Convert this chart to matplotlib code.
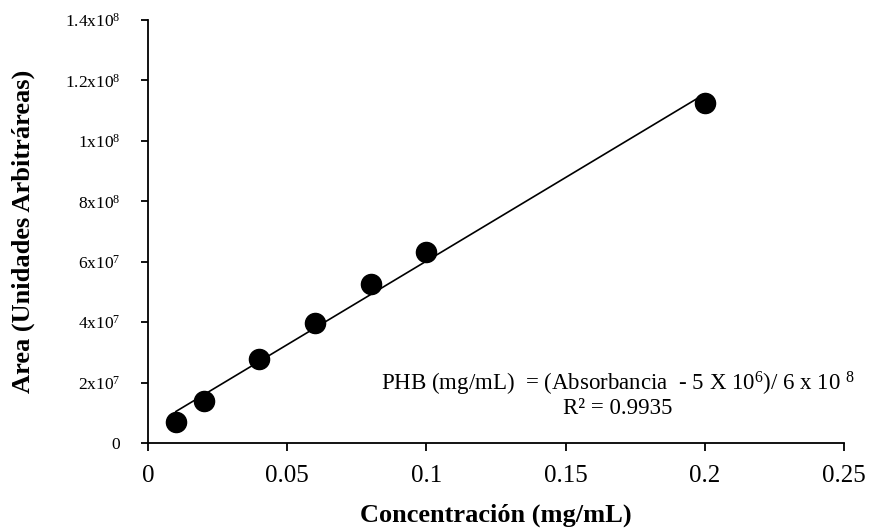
import numpy as np
import matplotlib
matplotlib.use("Agg")
import matplotlib.pyplot as plt

# Data
concentracion = [0.01, 0.02, 0.04, 0.06, 0.08, 0.10, 0.20]
area = [6.85e6, 1.39e7, 2.77e7, 3.97e7, 5.25e7, 6.33e7, 1.124e8]

x_ticks = [0, 0.05, 0.10, 0.15, 0.20, 0.25]
x_tick_labels = ["0", "0.05", "0.1", "0.15", "0.2", "0.25"]
y_ticks = [0, 2e7, 4e7, 6e7, 8e7, 1e8, 1.2e8, 1.4e8]
y_tick_labels = ["0", "2x10$^{7}$", "4x10$^{7}$", "6x10$^{7}$", "8x10$^{8}$",
                 "1x10$^{8}$", "1.2x10$^{8}$", "1.4x10$^{8}$"]

equation_text = "PHB (mg/mL)  = (Absorbancia  - 5 X 10$^{6}$)/ 6 x 10 $^{8}$"
r2_text = "R² = 0.9935"

plt.rcParams['font.family'] = ['Liberation Serif', 'DejaVu Serif']
plt.rcParams['mathtext.default'] = 'regular'

fig = plt.figure(figsize=(8.78, 5.29), dpi=100)
ax = fig.add_axes([148/878, 1 - 443/529, (844 - 148)/878, (443 - 20)/529])

# trendline via least-squares fit
coef = np.polyfit(concentracion, area, 1)
xl = np.array([min(concentracion), max(concentracion)])
ax.plot(xl, np.polyval(coef, xl), color='black', lw=1.2, zorder=2)

ax.plot(concentracion, area, 'o', color='black', ms=14.5, zorder=3, clip_on=False)

ax.set_xlim(0, 0.25)
ax.set_ylim(0, 1.4e8)
ax.set_xticks(x_ticks)
ax.set_xticklabels(x_tick_labels, fontsize=18)
ax.set_yticks(y_ticks)
ax.set_yticklabels(y_tick_labels, fontsize=12.5)

for s in ['top', 'right']:
    ax.spines[s].set_visible(False)
for s in ['left', 'bottom']:
    ax.spines[s].set_linewidth(1.3)
    ax.spines[s].set_color('black')

ax.tick_params(axis='x', direction='out', length=6, width=1.3, pad=10)
ax.tick_params(axis='y', direction='out', length=5, width=1.3, pad=15)

ax.set_xlabel("Concentración (mg/mL)", fontsize=19, fontweight='bold', labelpad=12)
ax.set_ylabel("Area (Unidades Arbitráreas)", fontsize=19, fontweight='bold')
ax.yaxis.set_label_coords(-0.163, 0.5)

ax.text(0.675, 0.115, equation_text + "\n" + r2_text, transform=ax.transAxes,
        ha='center', va='center', multialignment='center', fontsize=16.5, linespacing=1.0)

fig.savefig("out.png", dpi=100)
